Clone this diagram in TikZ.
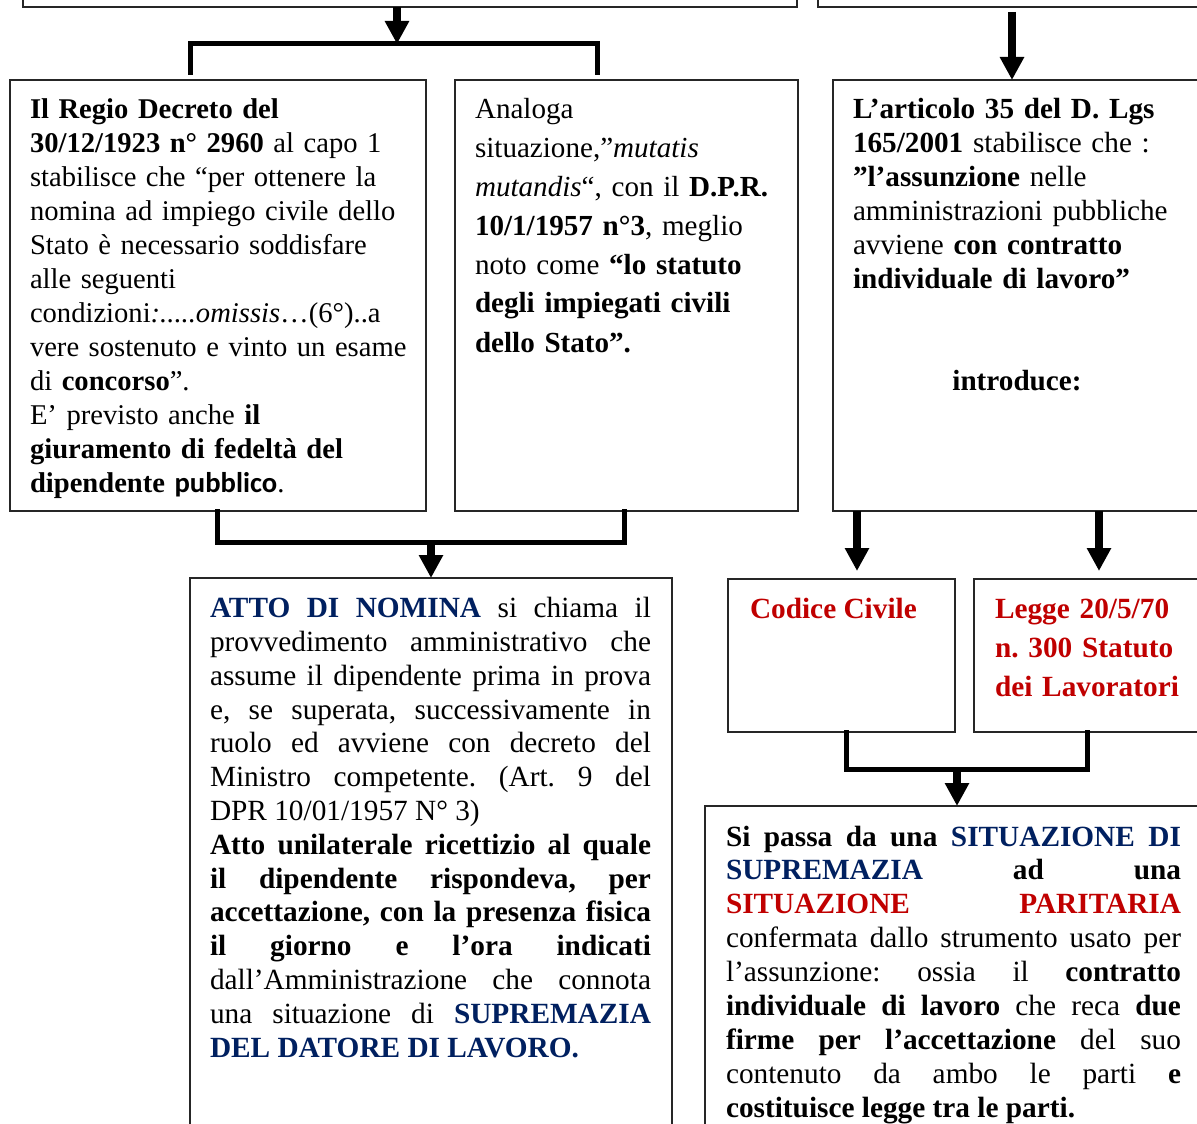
\documentclass[tikz,border=0pt]{standalone}
\usepackage{fontspec}
\setmainfont{Liberation Serif}
\newfontfamily\calibri{Carlito}
\usetikzlibrary{arrows.meta,calc}
\definecolor{navy}{HTML}{002060}
\definecolor{dred}{HTML}{C00000}
\setlength{\parindent}{0pt}
\begin{document}
\frenchspacing
\begin{tikzpicture}[x=1pt,y=-1pt,
  box/.style={draw=black!85,line width=1.6pt,inner sep=0pt,outer sep=0pt,anchor=north west},
  txt/.style={anchor=north west,inner sep=0pt,outer sep=0pt,align=left},
  jtxt/.style={anchor=north west,inner sep=0pt,outer sep=0pt,align=justify},
  arr/.style={line width=8pt,-{Triangle[width=23pt,length=23pt]}},
  brk/.style={line width=5pt,line join=miter,line cap=rect}]
\useasboundingbox (0,0) rectangle (1197,1124);
\clip (0,0) rectangle (1197,1124);
\fill[white] (0,0) rectangle (1197,1124);

% top boxes (partly visible)
\node[box,minimum width=774pt,minimum height=107pt] (T1) at (23,-100) {};
\node[box,minimum width=392pt,minimum height=107pt] (T2) at (818,-100) {};

% Box A
\node[box,minimum width=416pt,minimum height=431pt] (A) at (10,80) {};
\node[txt,text width=392pt,font=\fontsize{28.6}{34}\selectfont\frenchspacing] (At) at (30,94.2) {\strut\textbf{Il Regio Decreto del}\\
\textbf{30/12/1923 n° 2960} al capo 1\\
stabilisce che “per ottenere la\\
nomina ad impiego civile dello\\
Stato è necessario soddisfare\\
alle seguenti\\
condizioni\textit{:.....omissis}…(6°)..a\\
vere sostenuto e vinto un esame\\
di \textbf{concorso}”.\\
E’ previsto anche \textbf{il}\\
\textbf{giuramento di fedeltà del}\\
\textbf{dipendente {\calibri pubblico}}.};

% Box B
\node[box,minimum width=343pt,minimum height=431pt] (B) at (455,80) {};
\node[txt,text width=320pt,font=\fontsize{29.1}{39}\selectfont\frenchspacing] (Bt) at (475,90.7) {\strut Analoga\\
situazione,”\textit{mutatis}\\
\textit{mutandis}“, con il \textbf{D.P.R.}\\
\textbf{10/1/1957 n°3}, meglio\\
noto come \textbf{“lo statuto}\\
\textbf{degli impiegati civili}\\
\textbf{dello Stato”.}};

% Box C
\node[box,minimum width=377pt,minimum height=431pt] (C) at (833,80) {};
\node[txt,text width=340pt,font=\fontsize{29.2}{34}\selectfont\frenchspacing] (Ct) at (853,94.2) {\strut\textbf{L’articolo 35 del D. Lgs}\\
\textbf{165/2001} stabilisce che :\\
\textbf{”l’assunzione} nelle\\
amministrazioni pubbliche\\
avviene \textbf{con contratto}\\
\textbf{individuale di lavoro”}};
\node[anchor=base,inner sep=0pt,font=\fontsize{29.2}{34}\selectfont\bfseries] (Ci) at (1017,390) {introduce:};

% Box D
\node[box,minimum width=482pt,minimum height=570pt] (D) at (190,578) {};
\node[jtxt,text width=441pt,font=\fontsize{29.3}{33.8}\selectfont\frenchspacing] (Dt) at (210,594) {\strut\textcolor{navy}{\textbf{ATTO DI NOMINA}} si chiama il\linebreak
provvedimento amministrativo che\linebreak
assume il dipendente prima in prova\linebreak
e, se superata, successivamente in\linebreak
ruolo ed avviene con decreto del\linebreak
Ministro competente. (Art. 9 del\linebreak
DPR 10/01/1957 N° 3)\par
\textbf{Atto unilaterale ricettizio al quale\linebreak
il dipendente rispondeva, per\linebreak
accettazione, con la presenza fisica\linebreak
il giorno e l’ora indicati}\linebreak
dall’Amministrazione che connota\linebreak
una situazione di \textcolor{navy}{\textbf{SUPREMAZIA}}\linebreak
\textcolor{navy}{\textbf{DEL DATORE DI LAVORO.}}};

% Box E, F
\node[box,minimum width=227pt,minimum height=153pt] (E) at (728,579) {};
\node[txt,font=\fontsize{29.3}{39}\selectfont\bfseries,text=dred] (Et) at (750,590.7) {\strut Codice Civile};
\node[box,minimum width=236pt,minimum height=153pt] (F) at (974,579) {};
\node[txt,text width=200pt,font=\fontsize{29.3}{39}\selectfont\bfseries\frenchspacing,text=dred] (Ft) at (995,590.7) {\strut Legge 20/5/70\\
n.\ 300 Statuto\\
dei Lavoratori};

% Box G
\node[box,minimum width=505pt,minimum height=340pt] (G) at (705,806) {};
\node[jtxt,text width=455pt,font=\fontsize{29.3}{33.9}\selectfont\frenchspacing] (Gt) at (726,822.3) {\strut\textbf{Si passa da una \textcolor{navy}{SITUAZIONE DI}\linebreak
\textcolor{navy}{SUPREMAZIA} ad una\linebreak
\textcolor{dred}{SITUAZIONE PARITARIA}}\linebreak
confermata dallo strumento usato per\linebreak
l’assunzione: ossia il \textbf{contratto}\linebreak
\textbf{individuale di lavoro} che reca \textbf{due}\linebreak
\textbf{firme per l’accettazione} del suo\linebreak
contenuto da ambo le parti \textbf{e}\linebreak
\textbf{costituisce legge tra le parti.}};

% connectors: top left
\coordinate (j1) at (397,44);
\coordinate (j1L) at (190,73);
\coordinate (j1R) at (597,73);
\draw[arr] (T1.south -| j1) -- (j1);
\draw[brk] (j1L) |- (j1) -| (j1R);

% A,B -> D
\coordinate (j2) at (431,542);
\draw[brk] (A.south -| 217,0) |- (j2) -| (B.south -| 624,0);
\draw[arr] (j2) -- (D.north -| j2);

% T2 -> C
\draw[arr] ($(T2.south west)+(194,5)$) -- (C.north -| 1012,0);

% C -> E, C -> F
\draw[arr] (C.south -| 857,0) -- ($(E.north -| 857,0)+(0,-8)$);
\draw[arr] (C.south -| 1099,0) -- ($(F.north -| 1099,0)+(0,-8)$);

% E,F -> G
\coordinate (j3) at (957,769);
\draw[brk] (E.south -| 846,0) |- (j3) -| (F.south -| 1087,0);
\draw[arr] (j3) -- (G.north -| j3);
\end{tikzpicture}
\end{document}
